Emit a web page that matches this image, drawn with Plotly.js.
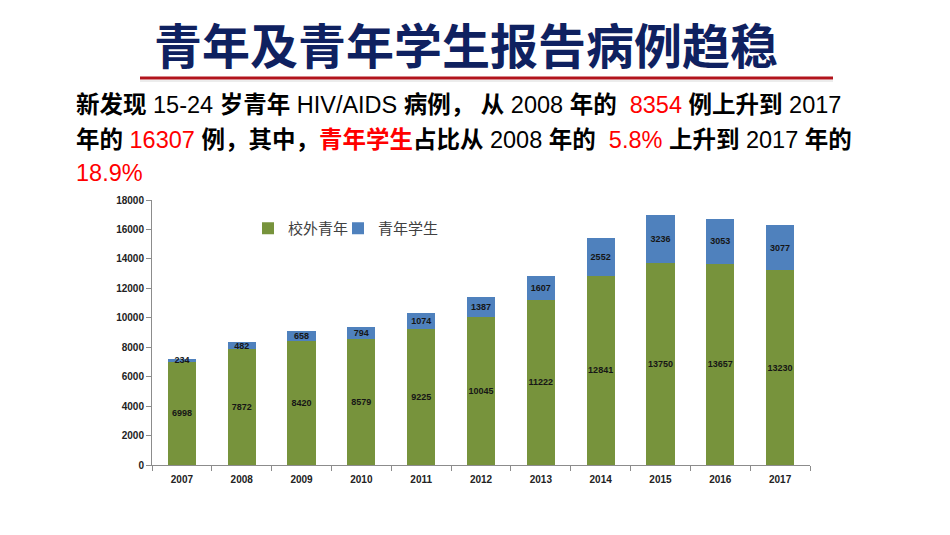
<!DOCTYPE html>
<html>
<head>
<meta charset="utf-8">
<script src="https://cdn.plot.ly/plotly-3.0.1.min.js"></script>
<style>
  html, body { margin: 0; padding: 0; background: #ffffff; }
  #chart { width: 950px; height: 535px; }
</style>
</head>
<body>
<div id="chart"></div>
<script>
// Reported HIV/AIDS cases among people aged 15-24, by year
const years = ['2007', '2008', '2009', '2010', '2011', '2012', '2013', '2014', '2015', '2016', '2017'];
const nonStudentYouth = [6998, 7872, 8420, 8579, 9225, 10045, 11222, 12841, 13750, 13657, 13230];
const studentYouth = [234, 482, 658, 794, 1074, 1387, 1607, 2552, 3236, 3053, 3077];
const seriesNames = ['校外青年', '青年学生'];
const yTicks = [0, 2000, 4000, 6000, 8000, 10000, 12000, 14000, 16000, 18000];

// Plot area in pixels (used to place the header text around it)
const W = 950, H = 535;
const M = { l: 152, r: 140, t: 200, b: 70 };
const plotW = W - M.l - M.r, plotH = H - M.t - M.b;
const px = x => (x - M.l) / plotW;
const py = y => (H - M.b - y) / plotH;

const labelFont = { family: 'Liberation Sans, Arial, sans-serif', size: 9, color: '#161616', weight: 'bold' };
const tickFont = { family: 'Liberation Sans, Arial, sans-serif', size: 10, color: '#222222', weight: 'bold' };
const legendFont = { family: 'Noto Sans CJK SC, serif', size: 15, color: '#404040' };

const traces = [
  {
    type: 'bar', name: seriesNames[0], x: years, y: nonStudentYouth, legend: 'legend',
    marker: { color: '#77933c' },
    text: nonStudentYouth.map(String), textposition: 'inside', insidetextanchor: 'middle',
    constraintext: 'none', textangle: 0, textfont: labelFont, hoverinfo: 'x+y+name'
  },
  {
    type: 'bar', name: seriesNames[1], x: years, y: studentYouth, legend: 'legend2',
    marker: { color: '#4f81bd' },
    text: studentYouth.map(String), textposition: 'inside', insidetextanchor: 'middle',
    constraintext: 'none', textangle: 0, textfont: labelFont, hoverinfo: 'x+y+name'
  }
];

const red = '#ff0000';
const cjk = s => '<b>' + s + '</b>';
const paraFont = { family: 'Liberation Sans, Arial, Noto Sans CJK SC, sans-serif', size: 23.5, color: '#000000' };
const line1 = cjk('新发现') + ' 15-24 ' + cjk('岁青年') + ' HIV/AIDS ' + cjk('病例，') + ' ' + cjk('从') + ' 2008 ' + cjk('年的') +
  '  <span style="color:' + red + '">8354</span> ' + cjk('例上升到') + ' 2017';
const line2 = cjk('年的') + ' <span style="color:' + red + '">16307</span> ' + cjk('例，其中，') +
  '<span style="color:' + red + '">' + cjk('青年学生') + '</span>' + cjk('占比从') + ' 2008 ' + cjk('年的') +
  '  <span style="color:' + red + '">5.8%</span> ' + cjk('上升到') + ' 2017 ' + cjk('年的');
const line3 = '<span style="color:' + red + '">18.9%</span>';

const legendBase = {
  orientation: 'h', xanchor: 'left', y: py(212), yanchor: 'top',
  font: legendFont, bgcolor: 'rgba(0,0,0,0)', itemwidth: 30
};

const layout = {
  width: W, height: H,
  margin: M,
  paper_bgcolor: '#ffffff', plot_bgcolor: '#ffffff',
  barmode: 'stack', bargap: 0.53,
  showlegend: true,
  title: {
    text: '<b>青年及青年学生报告病例趋稳</b>',
    x: 466 / W, xanchor: 'center', y: 1 - 47 / H, yanchor: 'middle',
    font: { family: 'Noto Sans CJK SC, sans-serif', size: 48, color: '#0f2160' }
  },
  legend: Object.assign({}, legendBase, { x: px(248) }),
  legend2: Object.assign({}, legendBase, { x: px(338) }),
  xaxis: {
    type: 'category', showgrid: false, zeroline: false,
    showline: true, linecolor: '#8c8c8c', linewidth: 1,
    ticks: 'outside', tickson: 'boundaries', ticklen: 5, tickcolor: '#8c8c8c',
    ticklabelstandoff: 5,
    tickfont: tickFont, fixedrange: true
  },
  yaxis: {
    range: [0, 18000], tickvals: yTicks, ticktext: yTicks.map(String),
    showgrid: false, zeroline: false,
    showline: true, linecolor: '#8c8c8c', linewidth: 1,
    ticks: 'outside', ticklen: 5, tickcolor: '#8c8c8c',
    tickfont: tickFont, fixedrange: true
  },
  shapes: [
    { type: 'line', xref: 'paper', yref: 'paper', x0: px(140), x1: px(833), y0: py(78), y1: py(78),
      line: { color: '#b2141c', width: 3 } },
    { type: 'line', xref: 'paper', yref: 'paper', x0: px(140), x1: px(833), y0: py(81), y1: py(81),
      line: { color: '#d9d9d9', width: 1 } }
  ],
  annotations: [
    { text: line1, xref: 'paper', yref: 'paper', x: px(74), y: py(105), xanchor: 'left', yanchor: 'middle',
      showarrow: false, align: 'left', font: paraFont },
    { text: line2, xref: 'paper', yref: 'paper', x: px(74), y: py(140), xanchor: 'left', yanchor: 'middle',
      showarrow: false, align: 'left', font: paraFont },
    { text: line3, xref: 'paper', yref: 'paper', x: px(74), y: py(173), xanchor: 'left', yanchor: 'middle',
      showarrow: false, align: 'left', font: paraFont }
  ]
};

Plotly.newPlot('chart', traces, layout, { displayModeBar: false, staticPlot: true });
</script>
</body>
</html>
